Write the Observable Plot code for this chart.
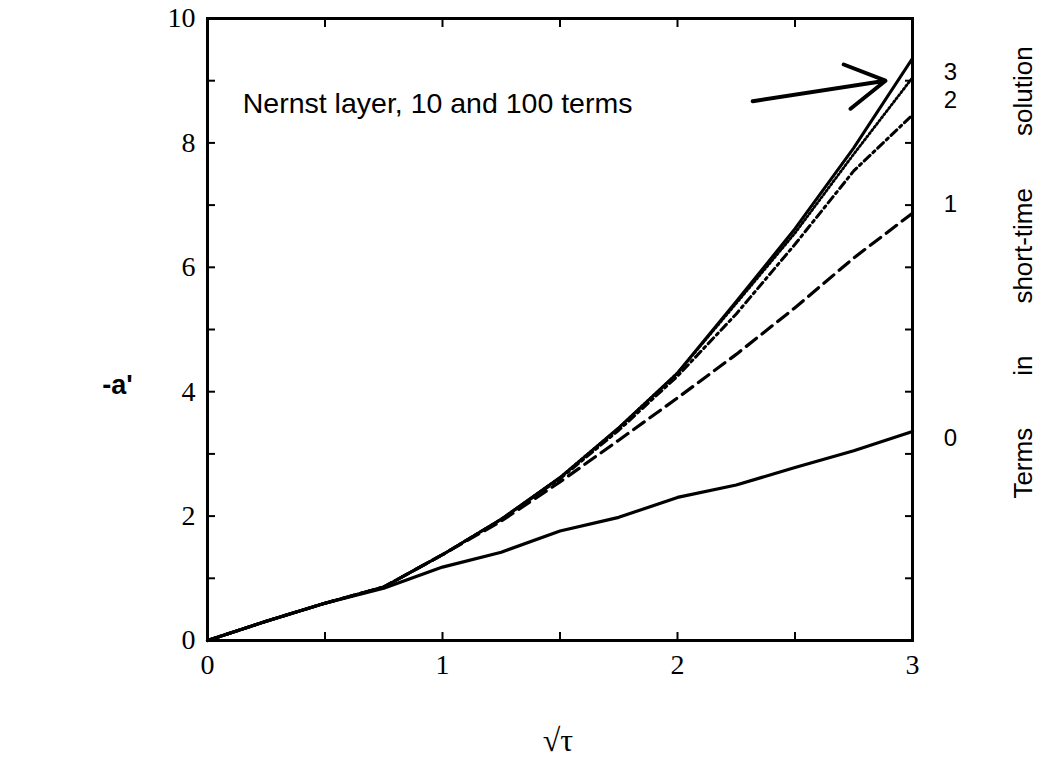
<!DOCTYPE html>
<html>
<head>
<meta charset="utf-8">
<script src="https://cdn.jsdelivr.net/npm/d3@7"></script>
<script src="https://cdn.jsdelivr.net/npm/@observablehq/plot@0.6"></script>
<style>
  html, body { margin: 0; padding: 0; background: #fff; }
  #chart svg { display: block; }
</style>
</head>
<body>
<div id="chart"></div>
<script>
// ---- data ----
const sqrtTau = [0, 0.25, 0.5, 0.75, 1, 1.25, 1.5, 1.75, 2, 2.25, 2.5, 2.75, 3];
const nernst  = [0, 0.31, 0.60, 0.86, 1.38, 1.95, 2.62, 3.42, 4.30, 5.45, 6.62, 7.92, 9.36];
const terms3  = [0, 0.31, 0.60, 0.86, 1.38, 1.95, 2.62, 3.42, 4.30, 5.42, 6.55, 7.82, 9.05];
const terms2  = [0, 0.31, 0.60, 0.86, 1.38, 1.95, 2.60, 3.38, 4.25, 5.25, 6.37, 7.55, 8.45];
const terms1  = [0, 0.31, 0.60, 0.86, 1.38, 1.92, 2.55, 3.22, 3.90, 4.60, 5.35, 6.15, 6.87];
const terms0  = [0, 0.31, 0.60, 0.84, 1.18, 1.42, 1.76, 1.98, 2.30, 2.50, 2.78, 3.05, 3.36];

const xTickLabels = [0, 1, 2, 3];
const xTicksAll = [0, 0.5, 1, 1.5, 2, 2.5, 3];
const yTickLabels = [0, 2, 4, 6, 8, 10];
const yTicksAll = [0, 1, 2, 3, 4, 5, 6, 7, 8, 9, 10];

const termLabels = ["3", "2", "1", "0"];
const termLabelY = [9.13, 8.68, 7.02, 3.25];

const annotation = "Nernst layer, 10 and 100 terms";
const xTitle = "\u221A\u03C4";
const yTitle = "-a'";
const rightTitle = "Terms\u2003\u2003in\u2003\u2003short-time\u2003\u2003solution";

// ---- build tables ----
const mk = (ys) => sqrtTau.map((x, i) => ({x, y: ys[i]}));
const labelRows = termLabels.map((t, i) => ({t, y: termLabelY[i]}));
const arrowRow = [{x1: 2.32, y1: 8.67, x2: 2.885, y2: 9.0}];
const noteRow = [{x: 0.15, y: 8.63, t: annotation}];

const sans = "Liberation Sans, Arial, Helvetica, sans-serif";
const serif = "Liberation Serif, Times New Roman, serif";
const blank = () => "";
const plain = d => String(d);

const chart = Plot.plot({
  width: 1046,
  height: 769,
  marginLeft: 207,
  marginRight: 134,
  marginTop: 18,
  marginBottom: 129,
  style: {background: "white", fontFamily: serif, color: "black", overflow: "visible"},
  x: {domain: [0, 3]},
  y: {domain: [0, 10]},
  marks: [
    // inward ticks on all four sides
    Plot.axisX({ticks: xTicksAll, tickSize: -8, tickFormat: blank, strokeWidth: 2, label: null}),
    Plot.axisX({anchor: "top", ticks: xTicksAll, tickSize: -8, tickFormat: blank, strokeWidth: 2, label: null}),
    Plot.axisY({ticks: yTicksAll, tickSize: -8, tickFormat: blank, strokeWidth: 2, label: null}),
    Plot.axisY({anchor: "right", ticks: yTicksAll, tickSize: -8, tickFormat: blank, strokeWidth: 2, label: null}),
    // tick labels
    Plot.axisX({ticks: xTickLabels, tickSize: 0, tickPadding: 14, tickFormat: plain, fontSize: 28, fontFamily: serif, label: null}),
    Plot.axisY({ticks: yTickLabels, tickSize: 0, tickPadding: 12, tickFormat: plain, fontSize: 28, fontFamily: serif, label: null}),
    // curves
    Plot.line(mk(terms0), {x: "x", y: "y", stroke: "black", strokeWidth: 3.2}),
    Plot.line(mk(terms1), {x: "x", y: "y", stroke: "black", strokeWidth: 3.2, strokeDasharray: "13 7"}),
    Plot.line(mk(terms2), {x: "x", y: "y", stroke: "black", strokeWidth: 3, strokeDasharray: "8 4 2.5 4"}),
    Plot.line(mk(terms3), {x: "x", y: "y", stroke: "black", strokeWidth: 2.8, strokeDasharray: "1.4 2.6"}),
    Plot.line(mk(nernst), {x: "x", y: "y", stroke: "black", strokeWidth: 3}),
    Plot.frame({stroke: "black", strokeWidth: 3}),
    // annotation + arrow
    Plot.text(noteRow, {x: "x", y: "y", text: "t", textAnchor: "start", fontSize: 28.5, fontFamily: sans, fill: "black"}),
    Plot.arrow(arrowRow, {x1: "x1", y1: "y1", x2: "x2", y2: "y2", stroke: "black", strokeWidth: 4, headLength: 26, bend: 0}),
    // term labels at the right
    Plot.text(labelRows, {x: () => 3, y: "y", text: "t", dx: 38, fontSize: 24, fontFamily: sans, fill: "black", clip: false}),
    // axis titles
    Plot.text([yTitle], {frameAnchor: "left", textAnchor: "middle", dx: -90, dy: 56, text: d => d, fontSize: 27, fontWeight: "bold", fontFamily: sans, fill: "black"}),
    Plot.text([xTitle], {frameAnchor: "bottom", dx: -2, dy: 110, text: d => d, fontSize: 32, fontFamily: serif, fill: "black"}),
    Plot.text([rightTitle], {frameAnchor: "right", textAnchor: "middle", dx: 111, dy: -57, rotate: -90, text: d => d, fontSize: 26, fontFamily: sans, fill: "black"})
  ]
});

document.getElementById("chart").appendChild(chart);
</script>
</body>
</html>
